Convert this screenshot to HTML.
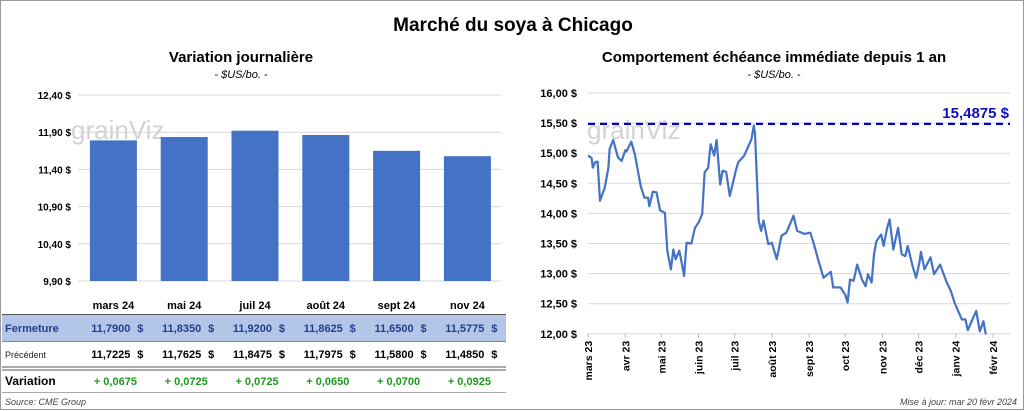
<!DOCTYPE html>
<html><head><meta charset="utf-8"><style>
body{margin:0;width:1024px;height:410px;overflow:hidden;background:#fff;font-family:"Liberation Sans",sans-serif}
#root{position:relative;width:1022px;height:408px;border:1px solid #999;background:#fff}
svg{position:absolute;left:0;top:0}
text{font-family:"Liberation Sans",sans-serif}
</style></head><body>
<div id="root">
<svg id="svg" width="1024" height="410">
<text x="512" y="30" text-anchor="middle" font-size="19" font-weight="bold">Marché du soya à Chicago</text>
<text x="240" y="61" text-anchor="middle" font-size="15" font-weight="bold">Variation  journalière</text>
<text x="240" y="77" text-anchor="middle" font-size="11" font-style="italic">- $US/bo. -</text>
<text x="773" y="61" text-anchor="middle" font-size="15" font-weight="bold">Comportement  échéance immédiate depuis 1 an</text>
<text x="773" y="77" text-anchor="middle" font-size="11" font-style="italic">- $US/bo. -</text>
<g id="left"></g>
<g id="right"></g>
<g id="table"></g>
<text x="4" y="404" font-size="9" font-style="italic" fill="#444">Source: CME Group</text>
<text x="1016" y="404" text-anchor="end" font-size="9" font-style="italic" fill="#444">Mise à jour: mar 20 févr 2024</text>
</svg>
</div>
<script>
const categories=["mars 24","mai 24","juil 24","août 24","sept 24","nov 24"];
const closeValues=[11.79,11.835,11.92,11.8625,11.65,11.5775];
const prevValues=[11.7225,11.7625,11.8475,11.7975,11.58,11.485];
const leftTicks=[12.4,11.9,11.4,10.9,10.4,9.9];
const lineDays=[0,3,4,6,8,10,14,17,18,21,25,28,31,32,36,39,42,44,47,50,51,54,57,60,64,66,69,71,73,76,78,80,82,86,89,92,95,97,100,102,105,107,110,112,115,118,123,125,130,136,138,139,142,144,146,150,153,157,161,165,171,174,180,185,188,191,196,202,204,210,214,216,218,221,224,228,231,233,236,238,240,244,246,249,251,254,258,261,264,266,270,273,276,277,280,285,288,293,298,302,305,308,311,314,316,323,326,329,331];
const lineValues=[14.96,14.92,14.76,14.85,14.86,14.21,14.43,14.76,15.07,15.22,14.93,14.87,15.05,15.03,15.19,14.98,14.65,14.44,14.26,14.26,14.12,14.36,14.35,14.05,14.01,13.38,13.07,13.40,13.24,13.38,13.18,12.96,13.51,13.50,13.76,13.85,13.99,14.68,14.76,15.15,14.96,15.22,14.48,14.71,14.69,14.29,14.71,14.85,14.96,15.23,15.46,15.32,13.88,13.71,13.88,13.49,13.51,13.24,13.63,13.68,13.96,13.71,13.66,13.68,13.49,13.27,12.93,13.03,12.77,12.77,12.65,12.52,12.90,12.88,13.15,12.90,12.79,12.99,12.85,13.32,13.54,13.65,13.46,13.76,13.90,13.40,13.76,13.32,13.29,13.46,13.13,12.93,13.21,13.36,13.07,13.27,12.99,13.15,12.88,12.71,12.52,12.38,12.24,12.24,12.06,12.38,12.04,12.21,11.99];
const rightTicks=[16,15.5,15,14.5,14,13.5,13,12.5,12];
const monthLabels=["mars 23","avr 23","mai 23","juin 23","juil 23","août 23","sept 23","oct 23","nov 23","déc 23","janv 24","févr 24"];
const monthDays=[0,31,61,92,122,153,184,214,245,275,306,337];
const maxLevel=15.4875;

const NS="http://www.w3.org/2000/svg";
function mk(tag,attrs,parent,txt){const e=document.createElementNS(NS,tag);for(const k in attrs)e.setAttribute(k,attrs[k]);if(txt!==undefined)e.textContent=txt;parent.appendChild(e);return e;}
const fmt=(v,d)=>v.toFixed(d).replace('.',',');

// left bar chart
const L=document.getElementById('left');
const ly=v=>94+(12.4-v)*74.4;
const step=70.8, x0=77;
const bx=i=>x0+step*i+step/2;
leftTicks.forEach(t=>{
 const g=mk('line',{x1:77,x2:500,y1:ly(t),y2:ly(t),stroke:'#d9d9d9','stroke-width':1},L);
 
 
 const tx=mk('text',{x:70,y:ly(t)+4,'text-anchor':'end','font-size':10,'font-weight':'bold'},L,fmt(t,2)+' $');
 
 
});
const wm1=mk('text',{x:70,y:138,'font-size':26,fill:'#d3d3d3'},L,'grainViz');


closeValues.forEach((v,i)=>{
 const r=mk('rect',{x:bx(i)-23.5,y:ly(v),width:47,height:ly(9.9)-ly(v),fill:'#4472c4'},L);
 
 
});

// table
const T=document.getElementById('table');
const bg=mk('rect',{x:1,y:314,width:504,height:26,fill:'#b4c6e7'},T);


const l1=mk('line',{x1:1,x2:505,y1:313.5,y2:313.5,stroke:'#555','stroke-width':1},T);


const l2=mk('line',{x1:1,x2:505,y1:340.5,y2:340.5,stroke:'#888','stroke-width':1},T);


[366,369].forEach(yy=>{
 const l=mk('line',{x1:1,x2:505,y1:yy,y2:yy,stroke:'#555','stroke-width':1},T);
 
 
});
const l3=mk('line',{x1:1,x2:505,y1:391.5,y2:391.5,stroke:'#aaa','stroke-width':1},T);


const lab1=mk('text',{x:4,y:331,'font-size':11,'font-weight':'bold',fill:'#1f3f8f'},T,'Fermeture');


const lab2=mk('text',{x:4,y:357,'font-size':9,fill:'#222'},T,'Précédent');


const lab3=mk('text',{x:4,y:384,'font-size':12,'font-weight':'bold'},T,'Variation');


categories.forEach((c,i)=>{
 const cx=bx(i);
 const h=mk('text',{x:cx,y:308,'text-anchor':'middle','font-size':11,'font-weight':'bold'},T,c);
 
 
 const a=mk('text',{x:cx+17,y:331,'text-anchor':'end','font-size':11,'font-weight':'bold',fill:'#1f3f8f'},T,fmt(closeValues[i],4));
 
 
 const a2=mk('text',{x:cx+30,y:331,'text-anchor':'end','font-size':11,'font-weight':'bold',fill:'#1f3f8f'},T,'$');
 
 
 const b=mk('text',{x:cx+17,y:357,'text-anchor':'end','font-size':11,'font-weight':'bold'},T,fmt(prevValues[i],4));
 
 
 const b2=mk('text',{x:cx+30,y:357,'text-anchor':'end','font-size':11,'font-weight':'bold'},T,'$');
 
 
 const d=closeValues[i]-prevValues[i];
 const v=mk('text',{x:cx+2,y:384,'text-anchor':'middle','font-size':11,'font-weight':'bold',fill:'#1e9a1e'},T,(d>=0?'+ ':'- ')+fmt(Math.abs(d),4));
 
 
});

// right line chart
const R=document.getElementById('right');
const ry=v=>92+(16-v)*60.2;
const rx=d=>587+d*(992-587)/337;
rightTicks.forEach(t=>{
 const g=mk('line',{x1:587,x2:1009,y1:ry(t),y2:ry(t),stroke:'#d9d9d9','stroke-width':1},R);
 
 
 const tx=mk('text',{x:576,y:ry(t)+4,'text-anchor':'end','font-size':11,'font-weight':'bold'},R,fmt(t,2)+' $');
 
 
});
const wm2=mk('text',{x:586,y:138,'font-size':26,fill:'#d3d3d3'},R,'grainViz');


monthLabels.forEach((m,i)=>{
 const x=rx(monthDays[i]);
 const tk=mk('line',{x1:x,x2:x,y1:ry(12),y2:ry(12)+4,stroke:'#bbb'},R);
 
 
 const tx=mk('text',{x:x+4,y:ry(12)+7,'text-anchor':'end','font-size':10.5,'font-weight':'bold',transform:`rotate(-90 ${x+4} ${ry(12)+7})`},R,m);
 
 
});
const ml=mk('line',{x1:587,x2:1009,y1:ry(maxLevel),y2:ry(maxLevel),stroke:'#0000c0','stroke-width':2.2,'stroke-dasharray':'7,5'},R);


const mt=mk('text',{x:1008,y:ry(maxLevel)-6,'text-anchor':'end','font-size':15,'font-weight':'bold',fill:'#1010c0'},R,fmt(maxLevel,4)+' $');


const pts=lineDays.map((d,i)=>rx(d).toFixed(1)+','+ry(lineValues[i]).toFixed(1)).join(' ');
const pl=mk('polyline',{points:pts,fill:'none',stroke:'#4472c4','stroke-width':2.2,'stroke-linejoin':'round'},R);


</script>
</body></html>
